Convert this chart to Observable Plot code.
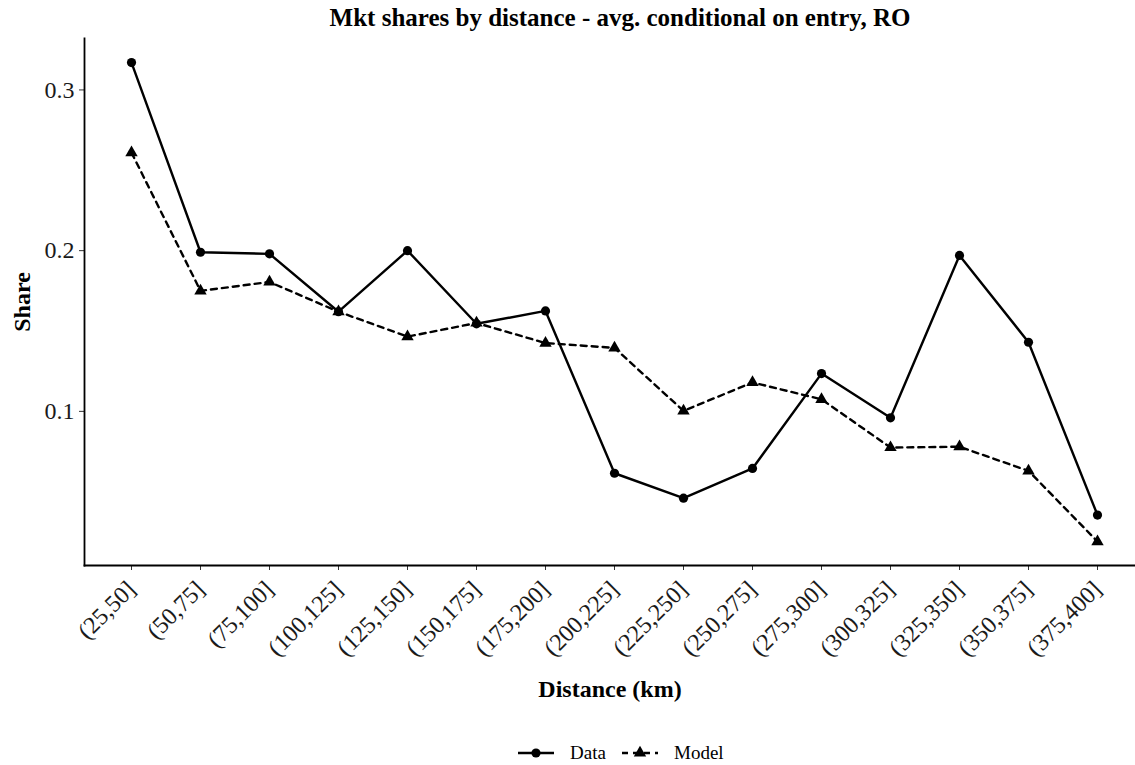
<!DOCTYPE html>
<html><head><meta charset="utf-8">
<script src="https://cdn.jsdelivr.net/npm/d3@7"></script>
<script src="https://cdn.jsdelivr.net/npm/@observablehq/plot@0.6"></script>
<style>
body{margin:0;background:#fff;font-family:"Liberation Serif","Times New Roman",serif;}
#wrap{position:relative;width:1135px;height:765px;}
#title{height:36px;line-height:36px;font-weight:bold;font-size:25px;text-align:center;padding-left:105px;width:1135px;box-sizing:border-box;color:#000;}
#chart svg{display:block;}
#legend{position:absolute;top:741px;left:0;width:1135px;height:24px;}
.key{position:absolute;top:0;}
.lab{position:absolute;top:0;font-size:19px;line-height:24px;color:#000;}
</style></head><body>
<div id="wrap">
<div id="title">Mkt shares by distance - avg. conditional on entry, RO</div>
<div id="chart"></div>
<div id="legend"></div>
</div>
<script>
const categories = ["(25,50]","(50,75]","(75,100]","(100,125]","(125,150]","(150,175]","(175,200]","(200,225]","(225,250]","(250,275]","(275,300]","(300,325]","(325,350]","(350,375]","(375,400]"];
const dataShare = [0.317,0.199,0.198,0.162,0.200,0.1545,0.1625,0.0615,0.046,0.0645,0.1235,0.096,0.197,0.143,0.0355];
const modelShare = [0.261,0.175,0.1805,0.162,0.1465,0.155,0.1425,0.1395,0.1003,0.118,0.1075,0.0775,0.078,0.063,0.019];
const yTicks = [0.1,0.2,0.3];
const seriesNames = ["Data","Model"];
const seriesSymbols = ["circle","triangle"];

const rows = categories.flatMap((c,i)=>[
  {cat:c, series:seriesNames[0], share:dataShare[i]},
  {cat:c, series:seriesNames[1], share:modelShare[i]}
]);

const font = "Liberation Serif";
const chart = Plot.plot({
  width:1135, height:690,
  marginTop:2, marginLeft:84, marginRight:0, marginBottom:161,
  style:{fontFamily:font, background:"white", color:"#000"},
  x:{type:"point", domain:categories, padding:0.546, align:0.553},
  y:{domain:[0.0041,0.332]},
  symbol:{domain:seriesNames, range:seriesSymbols},
  marks:[
    Plot.axisY({ticks:yTicks, tickFormat:d3.format(".1f"), tickSize:5, tickPadding:5, fontSize:24, color:"#1a1a1a", stroke:"#333", label:null}),
    Plot.axisX({tickSize:5, text:null, stroke:"#333", label:null}),
    Plot.axisX({tickRotate:-45, tickSize:0, tickPadding:20, fontSize:24, color:"#1a1a1a", label:null}),
    Plot.frame({anchor:"left", stroke:"#000", strokeWidth:1.8}),
    Plot.frame({anchor:"bottom", stroke:"#000", strokeWidth:1.8}),
    Plot.text(["Share"], {frameAnchor:"left", rotate:-90, dx:-62, textAnchor:"middle", fontSize:24, fontWeight:"bold", fill:"#000"}),
    Plot.text(["Distance (km)"], {frameAnchor:"bottom", dy:124, textAnchor:"middle", lineAnchor:"middle", fontSize:24, fontWeight:"bold", fill:"#000"}),
    Plot.line(rows, {filter:d=>d.series===seriesNames[0], x:"cat", y:"share", stroke:"#000", strokeWidth:2.4}),
    Plot.line(rows, {filter:d=>d.series===seriesNames[1], x:"cat", y:"share", stroke:"#000", strokeWidth:2.4, strokeDasharray:"6,5"}),
    Plot.dot(rows, {x:"cat", y:"share", symbol:"series", fill:"#000", r:4.6})
  ]
});
document.getElementById("chart").appendChild(chart);

// legend
const leg = d3.select("#legend");
const keys = [
  {name:seriesNames[0], sym:seriesSymbols[0], dash:null, kx:516, tx:570},
  {name:seriesNames[1], sym:seriesSymbols[1], dash:"6,5", kx:620, tx:674}
];
keys.forEach(k=>{
  const s = leg.append("svg").attr("class","key").attr("width",40).attr("height",24).style("left",k.kx+"px");
  s.append("line").attr("x1",2).attr("x2",38).attr("y1",12).attr("y2",12).attr("stroke","#000").attr("stroke-width",2.4).attr("stroke-dasharray",k.dash);
  const sym = k.sym==="circle" ? d3.symbolCircle : d3.symbolTriangle;
  s.append("path").attr("d", d3.symbol(sym, Math.PI*4.6*4.6)()).attr("transform","translate(20,12)").attr("fill","#000");
  leg.append("span").attr("class","lab").style("left",k.tx+"px").text(k.name);
});
</script>
</body></html>
